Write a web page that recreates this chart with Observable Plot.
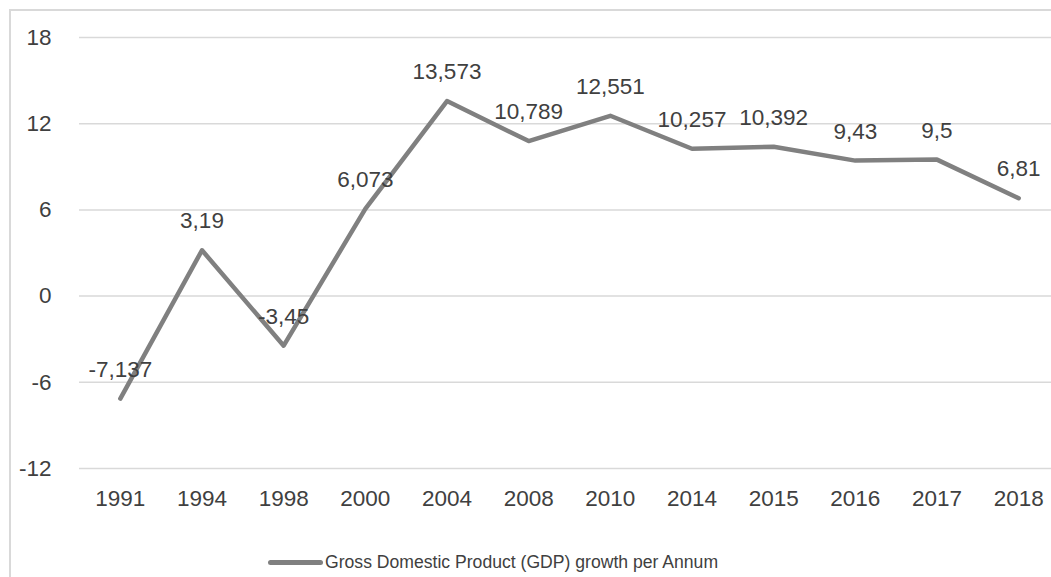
<!DOCTYPE html>
<html>
<head>
<meta charset="utf-8">
<script src="https://cdn.jsdelivr.net/npm/d3@7"></script>
<script src="https://cdn.jsdelivr.net/npm/@observablehq/plot@0.6"></script>
<style>
  html, body { margin: 0; padding: 0; background: #fff; overflow: hidden; width: 1051px; height: 577px; }
  #frame { position: absolute; left: 8.5px; top: 9px; width: 1100px; height: 700px;
           border-left: 2px solid #d9d9d9; border-top: 2px solid #d9d9d9; box-sizing: border-box; }
  #chart { position: absolute; left: 0; top: 0; width: 1060px; }
  #chart svg { max-width: none !important; }
  #legend { position: absolute; left: 268px; top: 550px; height: 24px; display: flex; align-items: center;
            font-family: "Liberation Sans", Arial, sans-serif; font-size: 17.6px; color: #404040; white-space: nowrap; }
  #legend .sw { display: inline-block; width: 55px; height: 5px; background: #808080; border-radius: 3px; margin-right: 2px; }
</style>
</head>
<body>
<div id="frame"></div>
<div id="chart"></div>
<div id="legend"><span class="sw"></span><span id="legend-text"></span></div>
<script>
const years = ["1991", "1994", "1998", "2000", "2004", "2008", "2010", "2014", "2015", "2016", "2017", "2018"];
const gdpGrowth = [-7.137, 3.19, -3.45, 6.073, 13.573, 10.789, 12.551, 10.257, 10.392, 9.43, 9.5, 6.81];
const valueLabels = ["-7,137", "3,19", "-3,45", "6,073", "13,573", "10,789", "12,551", "10,257", "10,392", "9,43", "9,5", "6,81"];
const yTicks = [-12, -6, 0, 6, 12, 18];
const seriesName = "Gross Domestic Product (GDP) growth per Annum";

const data = years.map((year, i) => ({ year, value: gdpGrowth[i], label: valueLabels[i] }));

const chart = Plot.plot({
  width: 1060,
  height: 520,
  marginLeft: 79,
  marginRight: 1,
  marginTop: 37,
  marginBottom: 52,
  style: { fontFamily: "'Liberation Sans', Arial, sans-serif", fontSize: "22.5px", color: "#404040", background: "transparent", overflow: "visible", maxWidth: "none" },
  x: { type: "point", domain: years, padding: 0.5, round: false, label: null },
  y: { domain: [-12, 18], label: null },
  marks: [
    Plot.ruleY(yTicks, { stroke: "#d9d9d9", strokeWidth: 1.5 }),
    Plot.axisY({ ticks: yTicks, tickSize: 0, tickPadding: 28, label: null, tickFormat: d => String(d) }),
    Plot.axisX({ tickSize: 0, tickPadding: 22, label: null }),
    Plot.line(data, { x: "year", y: "value", stroke: "#808080", strokeWidth: 4.5, strokeLinejoin: "round", strokeLinecap: "round" }),
    Plot.text(data, { x: "year", y: "value", text: "label", dy: -29, fill: "#404040", fontSize: 22.5 })
  ]
});
document.getElementById("chart").appendChild(chart);
document.getElementById("legend-text").textContent = seriesName;
</script>
</body>
</html>
